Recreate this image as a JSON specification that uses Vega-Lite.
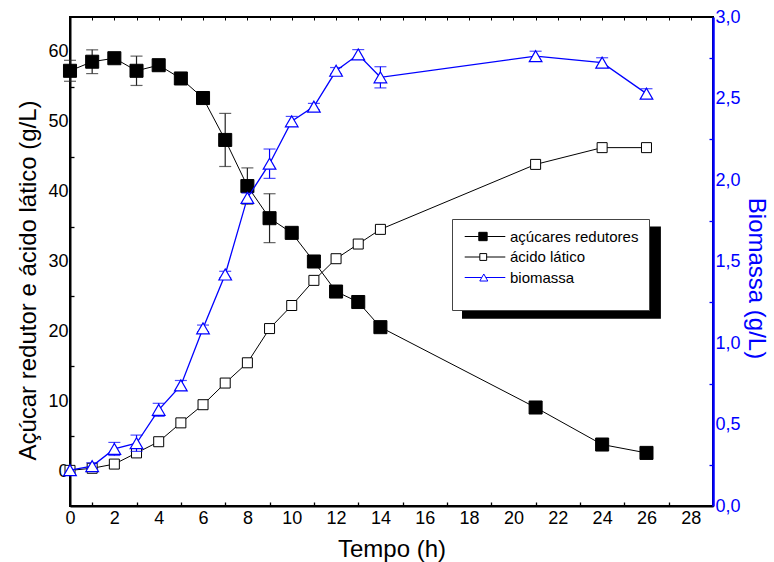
{
  "$schema": "https://vega.github.io/schema/vega-lite/v6.json",
  "width": 643,
  "height": 489,
  "autosize": {"type": "none"},
  "padding": {"left": 70, "top": 17, "right": 61, "bottom": 56},
  "config": {
    "font": "Liberation Sans",
    "view": {"stroke": "black", "strokeWidth": 2},
    "axis": {
      "grid": false,
      "labelFont": "Liberation Sans",
      "titleFont": "Liberation Sans",
      "labelFontSize": 18,
      "titleFontSize": 24,
      "titleFontWeight": "normal",
      "labelColor": "black",
      "titleColor": "black",
      "domainColor": "black",
      "tickColor": "black",
      "labelFlush": false,
      "labelOverlap": false
    }
  },
  "datasets": {
    "d": [
      {"t": 0, "s": "açúcares redutores", "v": 57.3, "e": 1.5},
      {"t": 1, "s": "açúcares redutores", "v": 58.6, "e": 1.7},
      {"t": 2, "s": "açúcares redutores", "v": 59.1, "e": 0.5},
      {"t": 3, "s": "açúcares redutores", "v": 57.3, "e": 2.1},
      {"t": 4, "s": "açúcares redutores", "v": 58.1, "e": 0.8},
      {"t": 5, "s": "açúcares redutores", "v": 56.2, "e": 0.8},
      {"t": 6, "s": "açúcares redutores", "v": 53.4, "e": 0.4},
      {"t": 7, "s": "açúcares redutores", "v": 47.4, "e": 3.8},
      {"t": 8, "s": "açúcares redutores", "v": 40.8, "e": 2.6},
      {"t": 9, "s": "açúcares redutores", "v": 36.2, "e": 3.5},
      {"t": 10, "s": "açúcares redutores", "v": 34.1, "e": 0},
      {"t": 11, "s": "açúcares redutores", "v": 30.0, "e": 0},
      {"t": 12, "s": "açúcares redutores", "v": 25.7, "e": 0},
      {"t": 13, "s": "açúcares redutores", "v": 24.2, "e": 0},
      {"t": 14, "s": "açúcares redutores", "v": 20.6, "e": 0},
      {"t": 21, "s": "açúcares redutores", "v": 9.1, "e": 0},
      {"t": 24, "s": "açúcares redutores", "v": 3.8, "e": 0},
      {"t": 26, "s": "açúcares redutores", "v": 2.6, "e": 0},
      {"t": 0, "s": "ácido lático", "v": 0.1, "e": 0},
      {"t": 1, "s": "ácido lático", "v": 0.4, "e": 0},
      {"t": 2, "s": "ácido lático", "v": 1.0, "e": 0},
      {"t": 3, "s": "ácido lático", "v": 2.6, "e": 0},
      {"t": 4, "s": "ácido lático", "v": 4.2, "e": 0},
      {"t": 5, "s": "ácido lático", "v": 6.9, "e": 0},
      {"t": 6, "s": "ácido lático", "v": 9.5, "e": 0},
      {"t": 7, "s": "ácido lático", "v": 12.6, "e": 0},
      {"t": 8, "s": "ácido lático", "v": 15.5, "e": 0},
      {"t": 9, "s": "ácido lático", "v": 20.4, "e": 0},
      {"t": 10, "s": "ácido lático", "v": 23.7, "e": 0},
      {"t": 11, "s": "ácido lático", "v": 27.3, "e": 0},
      {"t": 12, "s": "ácido lático", "v": 30.4, "e": 0},
      {"t": 13, "s": "ácido lático", "v": 32.5, "e": 0},
      {"t": 14, "s": "ácido lático", "v": 34.6, "e": 0},
      {"t": 21, "s": "ácido lático", "v": 43.9, "e": 0},
      {"t": 24, "s": "ácido lático", "v": 46.3, "e": 0},
      {"t": 26, "s": "ácido lático", "v": 46.3, "e": 0},
      {"t": 0, "s": "biomassa", "v": 0.22, "e": 0},
      {"t": 1, "s": "biomassa", "v": 0.245, "e": 0.02},
      {"t": 2, "s": "biomassa", "v": 0.35, "e": 0.04},
      {"t": 3, "s": "biomassa", "v": 0.385, "e": 0.05},
      {"t": 4, "s": "biomassa", "v": 0.59, "e": 0.04},
      {"t": 5, "s": "biomassa", "v": 0.74, "e": 0.03},
      {"t": 6, "s": "biomassa", "v": 1.09, "e": 0.02},
      {"t": 7, "s": "biomassa", "v": 1.42, "e": 0.02},
      {"t": 8, "s": "biomassa", "v": 1.89, "e": 0.03},
      {"t": 9, "s": "biomassa", "v": 2.10, "e": 0.09},
      {"t": 10, "s": "biomassa", "v": 2.36, "e": 0.03},
      {"t": 11, "s": "biomassa", "v": 2.45, "e": 0.02},
      {"t": 12, "s": "biomassa", "v": 2.67, "e": 0.02},
      {"t": 13, "s": "biomassa", "v": 2.77, "e": 0.03},
      {"t": 14, "s": "biomassa", "v": 2.63, "e": 0.065},
      {"t": 21, "s": "biomassa", "v": 2.76, "e": 0.03},
      {"t": 24, "s": "biomassa", "v": 2.72, "e": 0.03},
      {"t": 26, "s": "biomassa", "v": 2.53, "e": 0.03}
    ]
  },
  "data": {"name": "d"},
  "layer": [
    {
      "data": {"values": [{}]},
      "mark": {"type": "rect", "color": "black"},
      "encoding": {
        "x": {"datum": 17.68, "type": "quantitative", "scale": {"domain": [0, 29], "nice": false}, "axis": null},
        "x2": {"datum": 26.65},
        "y": {"datum": 35.0, "type": "quantitative", "scale": {"domain": [-5, 65], "nice": false}, "axis": null},
        "y2": {"datum": 21.8}
      }
    },
    {
      "transform": [{"filter": "datum.s != 'biomassa'"}],
      "mark": {"type": "line", "color": "black", "strokeWidth": 1},
      "encoding": {
        "detail": {"field": "s"},
        "x": {"field": "t", "type": "quantitative", "scale": {"domain": [0, 29], "nice": false},
          "axis": {"orient": "bottom", "values": [0, 2, 4, 6, 8, 10, 12, 14, 16, 18, 20, 22, 24, 26, 28], "ticks": false, "domainWidth": 2, "labelPadding": 3, "title": "Tempo (h)", "titlePadding": 10}},
        "y": {"field": "v", "type": "quantitative", "scale": {"domain": [-5, 65], "nice": false},
          "axis": {"orient": "left", "values": [0, 10, 20, 30, 40, 50, 60], "ticks": false, "domainWidth": 2, "labelPadding": 2, "title": "Açúcar redutor e ácido lático (g/L)", "titlePadding": 7, "titleFontSize": 24, "titleY": 263}}
      }
    },
    {
      "transform": [{"filter": "datum.s == 'açúcares redutores' && datum.e > 0"}],
      "mark": {"type": "errorbar", "color": "#222", "thickness": 1.2, "ticks": {"size": 12, "thickness": 1.2}},
      "encoding": {
        "x": {"field": "t", "type": "quantitative", "scale": {"domain": [0, 29], "nice": false}, "axis": null},
        "y": {"field": "v", "type": "quantitative", "scale": {"domain": [-5, 65], "nice": false}, "axis": null},
        "yError": {"field": "e"}
      }
    },
    {
      "transform": [{"filter": "datum.s == 'açúcares redutores'"}],
      "mark": {"type": "point", "shape": "square", "filled": true, "size": 170, "strokeWidth": 1, "opacity": 1},
      "encoding": {
        "x": {"field": "t", "type": "quantitative", "scale": {"domain": [0, 29], "nice": false}, "axis": null},
        "y": {"field": "v", "type": "quantitative", "scale": {"domain": [-5, 65], "nice": false}, "axis": null},
        "stroke": {"field": "s", "type": "nominal", "title": "                                              ", "scale": {"domain": ["açúcares redutores", "ácido lático", "biomassa"], "range": ["black", "black", "blue"]}},
        "fill": {"field": "s", "type": "nominal", "title": "                                              ", "scale": {"domain": ["açúcares redutores", "ácido lático", "biomassa"], "range": ["black", "white", "white"]}}
      }
    },
    {
      "transform": [{"filter": "datum.s == 'ácido lático'"}],
      "mark": {"type": "point", "shape": "square", "filled": true, "size": 100, "strokeWidth": 1, "opacity": 1},
      "encoding": {
        "x": {"field": "t", "type": "quantitative", "scale": {"domain": [0, 29], "nice": false}, "axis": null},
        "y": {"field": "v", "type": "quantitative", "scale": {"domain": [-5, 65], "nice": false}, "axis": null},
        "stroke": {"field": "s", "type": "nominal", "title": "                                              "},
        "fill": {"field": "s", "type": "nominal", "title": "                                              "}
      }
    },
    {
      "transform": [{"filter": "datum.s == 'biomassa'"}],
      "mark": {"type": "line", "color": "blue", "strokeWidth": 1.3},
      "encoding": {
        "x": {"field": "t", "type": "quantitative", "scale": {"domain": [0, 29], "nice": false}, "axis": null},
        "y": {"field": "v", "type": "quantitative", "scale": {"domain": [0, 3], "nice": false},
          "axis": {"orient": "right", "values": [0, 0.5, 1, 1.5, 2, 2.5, 3], "labelExpr": "replace(format(datum.value, '.1f'), '.', ',')", "ticks": false, "domainColor": "blue", "domainWidth": 2.5, "labelColor": "blue", "labelPadding": 2, "title": "Biomassa (g/L)", "titleColor": "blue", "titlePadding": 3, "titleY": 261}}
      }
    },
    {
      "transform": [{"filter": "datum.s == 'biomassa' && datum.e > 0"}],
      "mark": {"type": "errorbar", "color": "blue", "thickness": 1.2, "ticks": {"size": 12, "thickness": 1.2}},
      "encoding": {
        "x": {"field": "t", "type": "quantitative", "scale": {"domain": [0, 29], "nice": false}, "axis": null},
        "y": {"field": "v", "type": "quantitative", "scale": {"domain": [0, 3], "nice": false}, "axis": null},
        "yError": {"field": "e"}
      }
    },
    {
      "transform": [{"filter": "datum.s == 'biomassa'"}],
      "mark": {"type": "point", "shape": "triangle-up", "filled": true, "size": 160, "strokeWidth": 1.2, "opacity": 1},
      "encoding": {
        "x": {"field": "t", "type": "quantitative", "scale": {"domain": [0, 29], "nice": false}, "axis": null},
        "y": {"field": "v", "type": "quantitative", "scale": {"domain": [0, 3], "nice": false}, "axis": null},
        "stroke": {"field": "s", "type": "nominal", "title": "                                              "},
        "fill": {"field": "s", "type": "nominal", "title": "                                              "}
      }
    },
    {
      "transform": [{"filter": "false"}],
      "mark": {"type": "point", "filled": true, "opacity": 1},
      "encoding": {
        "shape": {"field": "s", "type": "nominal", "title": "                                              ",
          "scale": {"domain": ["açúcares redutores", "ácido lático", "biomassa"], "range": ["M-0.87,0L1.69,0M3.21,0L6.51,0M1.69,-0.76L3.21,-0.76L3.21,0.76L1.69,0.76Z", "M-0.87,0L1.88,0M3.12,0L6.51,0M1.88,-0.62L3.12,-0.62L3.12,0.62L1.88,0.62Z", "M-0.87,0L2.235,0M2.965,0L6.51,0M2.6,-0.64L3.33,0.64L1.87,0.64Z"]},
          "legend": {"orient": "none", "legendX": 382, "legendY": 202, "fillColor": "white", "strokeColor": "#444", "padding": 10, "labelFontSize": 15, "labelFont": "Liberation Sans", "labelColor": "black", "symbolSize": 121, "symbolStrokeWidth": 1, "labelOffset": 33, "rowPadding": 4.5, "titleOrient": "bottom", "titleFontSize": 12, "titlePadding": 3}},
        "stroke": {"field": "s", "type": "nominal", "title": "                                              "},
        "fill": {"field": "s", "type": "nominal", "title": "                                              "}
      }
    },
    {
      "mark": {"type": "point", "opacity": 0},
      "encoding": {
        "x": {"field": "t", "type": "quantitative", "scale": {"domain": [0, 29], "nice": false},
          "axis": {"orient": "bottom", "values": [1, 3, 5, 7, 9, 11, 13, 15, 17, 19, 21, 23, 25, 27], "labels": false, "domain": false, "tickSize": -4, "tickWidth": 1.3, "title": null}},
        "y": {"field": "v", "type": "quantitative", "scale": {"domain": [-5, 65], "nice": false},
          "axis": {"orient": "left", "values": [5, 15, 25, 35, 45, 55], "labels": false, "domain": false, "tickSize": -4, "tickWidth": 1.3, "title": null}}
      }
    },
    {
      "mark": {"type": "point", "opacity": 0},
      "encoding": {
        "x": {"field": "t", "type": "quantitative", "scale": {"domain": [0, 29], "nice": false},
          "axis": {"orient": "top", "values": [1, 2, 3, 4, 5, 6, 7, 8, 9, 10, 11, 12, 13, 14, 15, 16, 17, 18, 19, 20, 21, 22, 23, 24, 25, 26, 27, 28], "labels": false, "domain": false, "tickSize": -3, "tickWidth": 1, "title": null}},
        "y": {"field": "v", "type": "quantitative", "scale": {"domain": [0, 3], "nice": false},
          "axis": {"orient": "right", "values": [0.25, 0.75, 1.25, 1.75, 2.25, 2.75], "labels": false, "domain": false, "tickSize": -4, "tickWidth": 1.3, "tickColor": "blue", "title": null}}
      }
    }
  ],
  "resolve": {"scale": {"y": "independent"}, "axis": {"x": "independent", "y": "independent"}}
}
